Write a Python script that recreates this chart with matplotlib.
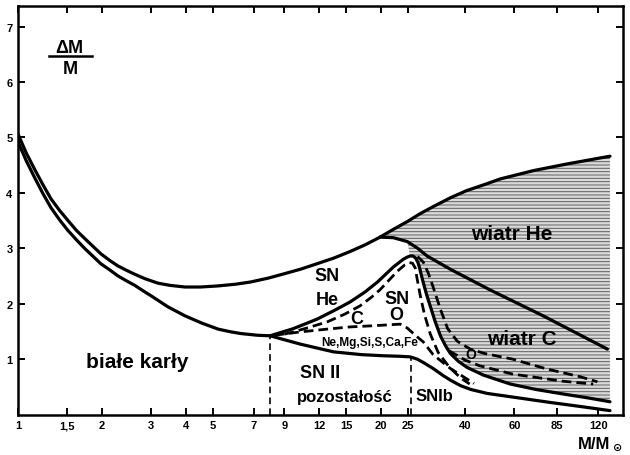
import matplotlib
matplotlib.use('Agg')
import matplotlib.pyplot as plt
from matplotlib.lines import Line2D

plt.rcParams['font.family'] = ['Liberation Sans', 'DejaVu Sans']
plt.rcParams['font.weight'] = 'bold'
plt.rcParams['hatch.linewidth'] = 0.7

# ---- data ----
x_ticks = [1, 1.5, 2, 3, 4, 5, 7, 9, 12, 15, 20, 25, 40, 60, 85, 120]
x_ticklabels = ['1', '1,5', '2', '3', '4', '5', '7', '9', '12', '15', '20', '25', '40', '60', '85', '120']
y_ticks = [1, 2, 3, 4, 5, 6, 7]

# upper boundary of white-dwarf / SN He band
A_m = [1.0, 1.07, 1.148, 1.23, 1.313, 1.41, 1.51, 1.62, 1.738, 1.86, 1.98, 2.13, 2.281, 2.45, 2.62, 2.85,
       3.17, 3.5, 3.965, 4.5, 5.215, 6.0, 6.8, 7.87, 9.0, 10.26, 11.78, 13.5, 15.47, 17.5, 19.82]
A_v = [5.06, 4.72, 4.42, 4.14, 3.89, 3.68, 3.50, 3.32, 3.17, 3.03, 2.90, 2.78, 2.68, 2.60, 2.53, 2.45,
       2.37, 2.33, 2.30, 2.30, 2.32, 2.35, 2.39, 2.46, 2.54, 2.62, 2.72, 2.82, 2.94, 3.06, 3.20]
# white dwarf upper boundary
B_m = [1.0, 1.07, 1.148, 1.23, 1.313, 1.41, 1.51, 1.62, 1.738, 1.86, 1.98, 2.13, 2.281, 2.45, 2.62, 2.81,
       3.0, 3.45, 3.965, 4.55, 5.215, 5.8, 6.3, 7.2, 8.0]
B_v = [4.92, 4.58, 4.27, 3.98, 3.73, 3.51, 3.32, 3.15, 2.99, 2.85, 2.72, 2.61, 2.50, 2.41, 2.33, 2.23,
       2.14, 1.94, 1.78, 1.65, 1.54, 1.49, 1.46, 1.43, 1.42]
# total mass envelope (top of wind He)
E_m = [19.82, 22.1, 24.8, 27.5, 30.7, 35.4, 40.5, 47, 53.4, 70.2, 92.6, 132]
E_v = [3.20, 3.34, 3.48, 3.62, 3.75, 3.91, 4.04, 4.15, 4.25, 4.40, 4.52, 4.66]
# lower boundary of wind He
W_m = [19.82, 22.1, 24.8, 27.0, 29.2, 35.4, 49, 76.1, 129.2]
W_v = [3.20, 3.19, 3.12, 3.00, 2.86, 2.62, 2.25, 1.78, 1.18]
# SN He lower boundary (solid)
S_m = [8.0, 9.7, 11.78, 13.5, 15.47, 17.5, 19.4, 22.1, 24.0, 24.8, 25.4, 26.0, 26.6, 27.1, 27.5, 27.9,
       28.3, 29.1, 30.0, 31.2, 32.6, 34.0, 35.4, 37.8, 40.6, 46.5, 58, 72, 89.7, 110, 132]
S_v = [1.42, 1.55, 1.72, 1.87, 2.03, 2.21, 2.39, 2.66, 2.80, 2.84, 2.86, 2.86, 2.82, 2.74, 2.63, 2.50,
       2.38, 2.16, 1.95, 1.68, 1.42, 1.24, 1.10, 0.96, 0.85, 0.71, 0.55, 0.45, 0.37, 0.30, 0.23]
# C / O boundary (dashed)
C_m = [9.0, 9.7, 11.0, 12.8, 14.8, 16.8, 18.5, 19.8, 21.3, 22.8, 24.3, 25.2, 25.9, 26.5, 26.9, 27.6, 28.6,
       30.0, 32.0, 35.0, 38.5, 41.5]
C_v = [1.45, 1.49, 1.57, 1.67, 1.81, 1.96, 2.12, 2.25, 2.42, 2.58, 2.70, 2.74, 2.73, 2.64, 2.45, 2.15, 1.80,
       1.45, 1.12, 0.86, 0.66, 0.55]
# O / Ne,Mg,... boundary (dashed)
N_m = [8.3, 10.26, 12.8, 15.47, 18.5, 21.6, 23.4, 24.8, 26.5, 28.3, 30.7, 35.4, 40.6, 43.0]
N_v = [1.43, 1.49, 1.54, 1.58, 1.60, 1.62, 1.63, 1.56, 1.43, 1.31, 1.08, 0.83, 0.64, 0.56]
# wind C lower boundary (dashed)
H_m = [27.0, 28.3, 29.5, 30.7, 32.6, 34.6, 37.5, 41.7, 47, 59, 78.6, 103.5, 119]
H_v = [2.85, 2.75, 2.55, 2.30, 1.90, 1.55, 1.32, 1.18, 1.10, 1.00, 0.82, 0.68, 0.59]
# wind O lower boundary (dashed)
D_m = [35.0, 40.0, 45, 59, 89.7, 115]
D_v = [1.15, 0.98, 0.88, 0.73, 0.60, 0.55]
# remnant upper boundary
R_m = [8.0, 10.26, 13.5, 17, 20.3, 23.4, 25.4, 26.9, 28.5, 30.7, 33.4, 35.4, 38.5, 42, 48, 62, 80, 105, 132]
R_v = [1.42, 1.27, 1.13, 1.08, 1.06, 1.05, 1.04, 1.0, 0.93, 0.83, 0.70, 0.62, 0.52, 0.45, 0.38, 0.30, 0.22, 0.14, 0.07]
# vertical separators
V_m = [8.0, 25.6]
V_top = [1.42, 1.03]

fig = plt.figure(figsize=(6.3, 4.56), dpi=100)
ax = fig.add_axes([18/630, 40.5/456, 605/630, 408.5/456])
ax.set_xscale('log')
ax.set_xlim(1, 147)
ax.set_ylim(0, 7.37)

# shaded wind region: between the envelope and the SN He boundary
ipk = S_m.index(25.4)
poly_x = E_m + [E_m[-1]] + S_m[ipk:][::-1] + W_m[:3][::-1]
poly_y = E_v + [S_v[-1]] + S_v[ipk:][::-1] + W_v[:3][::-1]
ax.fill(poly_x, poly_y, facecolor='#dadada', linewidth=0, zorder=1)
ax.fill(poly_x, poly_y, facecolor='none', edgecolor='#5f5f5f', hatch='-----', linewidth=0, zorder=1.5)

kw = dict(color='black', lw=2.3, solid_capstyle='round', solid_joinstyle='round', zorder=3)
dkw = dict(color='black', lw=2.0, ls=(0, (3.5, 1.8)), dash_joinstyle='round', zorder=3)
ax.plot(A_m, A_v, **kw)
ax.plot(B_m, B_v, **kw)
ax.plot(E_m, E_v, **kw)
ax.plot(W_m, W_v, **kw)
ax.plot(S_m, S_v, **kw)
ax.plot(R_m, R_v, **kw)
ax.plot(C_m, C_v, **dkw)
ax.plot(N_m, N_v, **dkw)
ax.plot(H_m, H_v, **dkw)
ax.plot(D_m, D_v, **dkw)
for vm, vt in zip(V_m, V_top):
    ax.plot([vm, vm], [0, vt], color='black', lw=1.2, ls=(0, (4, 2.5)), zorder=3)

# ticks
ax.set_xticks(x_ticks)
ax.set_xticklabels(x_ticklabels)
ax.minorticks_off()
ax.set_yticks(y_ticks)
ax.tick_params(direction='in', length=5, width=1.4, top=True, right=True,
               labelsize=8, pad=4)
for lab in ax.get_xticklabels() + ax.get_yticklabels():
    lab.set_fontweight('bold')
for sp in ax.spines.values():
    sp.set_linewidth(1.8)

# labels
tk = dict(ha='center', va='center', fontweight='bold', zorder=5)
ax.text(2.67, 0.95, 'białe karły', fontsize=15, **tk)
ax.text(12.8, 2.50, 'SN', fontsize=13, **tk)
ax.text(12.8, 2.07, 'He', fontsize=13, **tk)
ax.text(22.8, 2.10, 'SN', fontsize=13, **tk)
ax.text(22.6, 1.80, 'O', fontsize=13, **tk)
ax.text(16.4, 1.74, 'C', fontsize=13, **tk)
ax.text(18.2, 1.31, 'Ne,Mg,Si,S,Ca,Fe', fontsize=8.5, **tk)
ax.text(12.1, 0.75, 'SN II', fontsize=13, **tk)
ax.text(14.8, 0.33, 'pozostałość', fontsize=12, **tk)
ax.text(31, 0.35, 'SNIb', fontsize=12, **tk)
ax.text(58.9, 3.26, 'wiatr He', fontsize=15, **tk)
ax.text(64.0, 1.38, 'wiatr C', fontsize=15, **tk)
ax.text(42, 1.09, 'O', fontsize=10, **tk)

fig.text(69/630, 1 - 49/456, 'ΔM', ha='center', va='center', fontsize=13, fontweight='bold')
fig.text(70/630, 1 - 69/456, 'M', ha='center', va='center', fontsize=13, fontweight='bold')
fig.add_artist(Line2D([49/630, 92/630], [1 - 57/456, 1 - 57/456], color='black', lw=1.8))
fig.text(594/630, 1 - 445/456, 'M/M', ha='center', va='center', fontsize=12, fontweight='bold')
fig.text(618/630, 1 - 448/456, '⊙', ha='center', va='center', fontsize=8, fontweight='bold')

fig.savefig('out.png', dpi=100)
